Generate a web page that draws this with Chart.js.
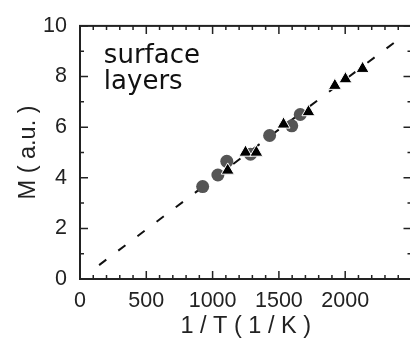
<!DOCTYPE html>
<html>
<head>
<meta charset="utf-8">
<script src="https://cdn.jsdelivr.net/npm/chart.js@4"></script>
<style>
  html, body { margin: 0; padding: 0; background: #fff; overflow: hidden; }
  canvas { display: block; }
</style>
</head>
<body>
<canvas id="myChart" width="420" height="346"></canvas>
<script>
// circles (gray) and triangles (black), x = 1/T, y = M
const circleX = [925, 1040, 1107, 1286, 1430, 1597, 1661]
const circleY = [3.65, 4.11, 4.65, 4.93, 5.67, 6.05, 6.5]
const triX = [1114, 1248, 1330, 1535, 1723, 1922, 2002, 2131]
const triY = [4.29, 5.0, 5.0, 6.11, 6.6, 7.64, 7.9, 8.31]
// dashed fit line
const fitX = [144, 2410]
const fitY = [0.55, 9.5]
const xTicks = [0, 500, 1000, 1500, 2000]
const yTicks = [0, 2, 4, 6, 8, 10]
const noteLines = ["surface", "layers"]

const toPts = (xs, ys) => xs.map((x, i) => ({ x: x, y: ys[i] }))

// inward tick marks and frame box
const frame = {
  id: "frame",
  afterDraw(chart) {
    const { ctx, chartArea: a, scales } = chart
    const xs = scales.x
    const ys = scales.y
    ctx.save()
    ctx.strokeStyle = "#222"
    ctx.lineWidth = 1.5
    for (let v = 0; v <= 2500; v += 100) {
      const px = xs.getPixelForValue(v)
      const len = v % 500 === 0 ? 8 : 4
      ctx.beginPath()
      ctx.moveTo(px, a.bottom)
      ctx.lineTo(px, a.bottom - len)
      ctx.moveTo(px, a.top)
      ctx.lineTo(px, a.top + len)
      ctx.stroke()
    }
    for (let v = 0; v <= 10; v += 1) {
      const py = ys.getPixelForValue(v)
      const len = v % 2 === 0 ? 8 : 4
      ctx.beginPath()
      ctx.moveTo(a.left, py)
      ctx.lineTo(a.left + len, py)
      ctx.moveTo(a.right, py)
      ctx.lineTo(a.right - len, py)
      ctx.stroke()
    }
    ctx.lineWidth = 2
    ctx.strokeRect(a.left, a.top, a.right - a.left, a.bottom - a.top)

    // label in the corner
    ctx.fillStyle = "#111"
    ctx.font = "26px 'DejaVu Sans'"
    ctx.textBaseline = "alphabetic"
    ctx.textAlign = "left"
    ctx.fillText(noteLines[0], xs.getPixelForValue(180), ys.getPixelForValue(8.55))
    ctx.fillText(noteLines[1], xs.getPixelForValue(180), ys.getPixelForValue(7.5))
    ctx.restore()
  },
}

const ctx = document.getElementById("myChart")
const tickFont = { family: "'Liberation Sans', Arial", size: 21.5 }
const titleFont = { family: "'Liberation Sans', Arial", size: 23.5 }

new Chart(ctx, {
  type: "scatter",
  data: {
    datasets: [
      {
        label: "fit",
        data: toPts(fitX, fitY),
        showLine: true,
        borderColor: "#111",
        borderWidth: 2,
        borderDash: [9, 15],
        pointRadius: 0,
        order: 2,
      },
      {
        label: "circles",
        data: toPts(circleX, circleY),
        pointStyle: "circle",
        pointRadius: 6.5,
        backgroundColor: "#555",
        borderColor: "#555",
        borderWidth: 0,
        order: 1,
      },
      {
        label: "triangles",
        data: toPts(triX, triY),
        pointStyle: "triangle",
        pointRadius: 7.5,
        backgroundColor: "#000",
        borderColor: "#fff",
        borderWidth: 1,
        order: 0,
      },
    ],
  },
  options: {
    responsive: false,
    animation: false,
    devicePixelRatio: 1,
    layout: { padding: { top: 17, right: 6, left: 0, bottom: 0 } },
    plugins: { legend: { display: false }, tooltip: { enabled: false } },
    scales: {
      x: {
        type: "linear",
        min: 0,
        max: 2500,
        afterBuildTicks: (s) => { s.ticks = xTicks.map((v) => ({ value: v })) },
        afterFit: (s) => { s.height = 67 },
        grid: { display: false, drawTicks: false },
        border: { display: false },
        ticks: { padding: 9, color: "#222", font: tickFont, callback: (v) => String(v) },
        title: {
          display: true,
          text: "1 / T ( 1 / K )",
          color: "#222",
          padding: { top: 0, bottom: 5 },
          font: titleFont,
        },
      },
      y: {
        min: 0,
        max: 10,
        afterBuildTicks: (s) => { s.ticks = yTicks.map((v) => ({ value: v })) },
        afterFit: (s) => { s.width = 80 },
        grid: { display: false, drawTicks: false },
        border: { display: false },
        ticks: { padding: 13, color: "#222", font: tickFont, callback: (v) => String(v) },
        title: {
          display: true,
          text: "M ( a.u. )",
          color: "#222",
          padding: { top: 14, bottom: 0 },
          font: titleFont,
        },
      },
    },
  },
  plugins: [frame],
})
</script>
</body>
</html>
